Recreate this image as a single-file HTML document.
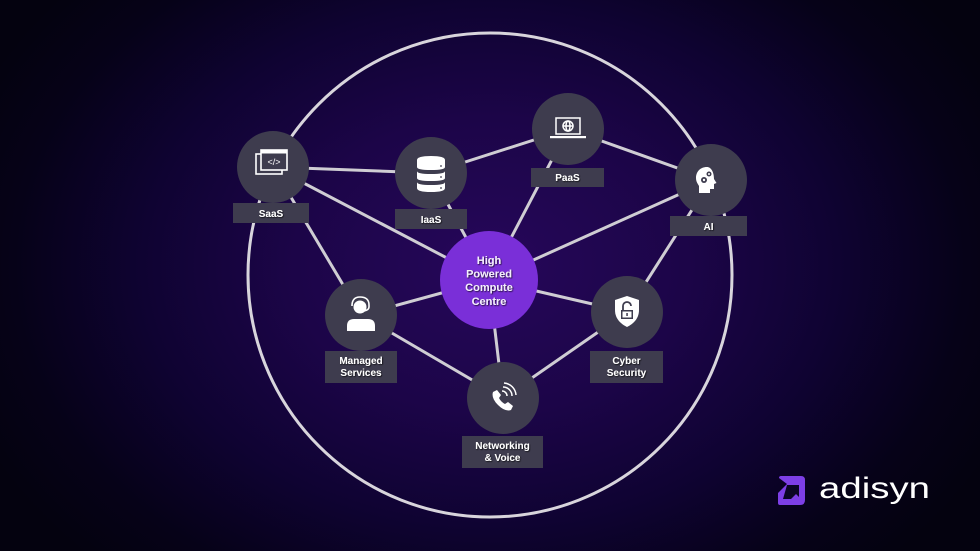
<!DOCTYPE html>
<html><head><meta charset="utf-8"><style>
html,body{margin:0;padding:0;width:980px;height:551px;overflow:hidden;background:#040210}
.bg{position:absolute;left:0;top:0;width:980px;height:551px;background:radial-gradient(ellipse 560px 420px at 490px 265px,#26075a 0%,#1c0548 35%,#0f0332 62%,#060218 85%,#04020f 100%)}
svg{position:absolute;left:0;top:0}
text{font-family:"Liberation Sans",Arial,sans-serif}
</style></head><body>
<div class="bg"></div>
<svg width="980" height="551" viewBox="0 0 980 551">
<defs>
<filter id="sh" x="-20%" y="-20%" width="140%" height="140%"><feDropShadow dx="0.8" dy="0.8" stdDeviation="0.5" flood-color="#000" flood-opacity="0.8"/></filter>
</defs>
<!-- big circle -->
<circle cx="490" cy="275" r="242" fill="none" stroke="#d8d5dc" stroke-width="3"/>
<!-- connectors -->
<g stroke="#cfcdd3" stroke-width="3" stroke-linecap="round">
<line x1="273" y1="167" x2="431" y2="173"/>
<line x1="273" y1="167" x2="489" y2="280"/>
<line x1="273" y1="167" x2="361" y2="315"/>
<line x1="431" y1="173" x2="568" y2="129"/>
<line x1="431" y1="173" x2="489" y2="280"/>
<line x1="568" y1="129" x2="711" y2="180"/>
<line x1="568" y1="129" x2="489" y2="280"/>
<line x1="711" y1="180" x2="489" y2="280"/>
<line x1="711" y1="180" x2="627" y2="312"/>
<line x1="489" y1="280" x2="627" y2="312"/>
<line x1="489" y1="280" x2="361" y2="315"/>
<line x1="489" y1="280" x2="503" y2="398"/>
<line x1="361" y1="315" x2="503" y2="398"/>
<line x1="627" y1="312" x2="503" y2="398"/>
</g>
<!-- node circles -->
<g fill="#3e3c4e">
<circle cx="273" cy="167" r="36"/>
<circle cx="431" cy="173" r="36"/>
<circle cx="568" cy="129" r="36"/>
<circle cx="711" cy="180" r="36"/>
<circle cx="361" cy="315" r="36"/>
<circle cx="627" cy="312" r="36"/>
<circle cx="503" cy="398" r="36"/>
</g>
<!-- label boxes -->
<g fill="#3e3c4e">
<rect x="233" y="203" width="76" height="20"/>
<rect x="395" y="209" width="72" height="20"/>
<rect x="531" y="168" width="73" height="19"/>
<rect x="670" y="216" width="77" height="20"/>
<rect x="325" y="351" width="72" height="32"/>
<rect x="590" y="351" width="73" height="32"/>
<rect x="462" y="436" width="81" height="32"/>
</g>
<!-- center -->
<circle cx="489" cy="280" r="49" fill="#7a2fd8"/>
<g fill="#f4eefc" font-size="11" font-weight="bold" text-anchor="middle" filter="url(#sh)">
<text x="489" y="264">High</text>
<text x="489" y="277.5">Powered</text>
<text x="489" y="291">Compute</text>
<text x="489" y="305">Centre</text>
</g>
<!-- labels -->
<g fill="#ffffff" font-size="10" font-weight="bold" text-anchor="middle" filter="url(#sh)">
<text x="271" y="217">SaaS</text>
<text x="431" y="223">IaaS</text>
<text x="567.5" y="181">PaaS</text>
<text x="708.5" y="230">AI</text>
<text x="361" y="364">Managed</text>
<text x="361" y="376">Services</text>
<text x="626.5" y="364">Cyber</text>
<text x="626.5" y="376">Security</text>
<text x="502.5" y="449">Networking</text>
<text x="502.5" y="461">&amp; Voice</text>
</g>
<!-- SaaS icon -->
<g fill="none" stroke="#fff" stroke-width="1.6">
<rect x="256" y="154" width="26" height="20"/>
<rect x="261" y="150" width="26" height="20" fill="#3e3c4e"/>
</g>
<rect x="261" y="150" width="26" height="3.5" fill="#fff"/>
<text x="274" y="165" font-size="9" fill="#fff" text-anchor="middle" font-family="Liberation Mono">&lt;/&gt;</text>
<!-- IaaS icon -->
<g fill="#fff">
<path d="M417 160 q0-4 14-4 q14 0 14 4 v7 q0 3-14 3 q-14 0-14-3z"/>
<path d="M417 171 q0 3 14 3 q14 0 14-3 v7 q0 3-14 3 q-14 0-14-3z"/>
<path d="M417 182 q0 3 14 3 q14 0 14-3 v6 q0 4-14 4 q-14 0-14-4z"/>
</g>
<g fill="#3e3c4e"><circle cx="441" cy="166" r="0.9"/><circle cx="441" cy="177" r="0.9"/><circle cx="441" cy="188" r="0.9"/></g>
<!-- PaaS icon -->
<g fill="none" stroke="#fff" stroke-width="1.5">
<rect x="556" y="118" width="24" height="16"/>
<circle cx="568" cy="126" r="5"/>
<ellipse cx="568" cy="126" rx="2" ry="5"/>
<line x1="563" y1="126" x2="573" y2="126"/>
</g>
<rect x="550" y="136" width="36" height="2.2" fill="#fff"/>
<!-- AI icon -->
<path d="M707 167 c-7 0-11 5-11 11 c0 4 2 6 3 8 v7 h11 v-4 h4 v-5 l2.5-1 l-2.5-4 c0-7-3-12-7-12z" fill="#fff"/>
<g fill="#3e3c4e"><circle cx="704" cy="180" r="3"/><circle cx="709" cy="174" r="2.5"/></g>
<g fill="#fff"><circle cx="704" cy="180" r="1.2"/><circle cx="709" cy="174" r="1"/></g>
<!-- Managed icon -->
<g fill="#fff">
<circle cx="360" cy="307" r="6.5"/>
<path d="M347 331 v-5 q0-7 7-7 h14 q7 0 7 7 v5z"/>
</g>
<path d="M352 306 q0-9 8-9 q9 0 9 8 v2 q0 3-5 4" fill="none" stroke="#fff" stroke-width="1.6"/>
<!-- Cyber icon -->
<path d="M627 296 l12 4 v10 c0 9-6 14-12 17 c-6-3-12-8-12-17 v-10z" fill="#fff"/>
<rect x="621" y="310" width="12" height="9" fill="#3e3c4e"/>
<path d="M623 310 v-4 a4 4 0 0 1 8 0" fill="none" stroke="#3e3c4e" stroke-width="1.8"/>
<rect x="622.5" y="311.5" width="9" height="6" fill="#fff"/>
<rect x="626.3" y="313" width="1.5" height="3" fill="#3e3c4e"/>
<!-- Networking icon -->
<path d="M493 392 q-2 6 5 13 q7 7 13 5 l2-4 l-5-4 l-3 2 q-4-2-6-6 l2-3 l-4-5z" fill="#fff"/>
<g fill="none" stroke="#fff" stroke-width="1.5">
<path d="M502 391 a5 5 0 0 1 5 5"/>
<path d="M503 387 a9 9 0 0 1 9 9"/>
<path d="M504 383 a13 13 0 0 1 12 12"/>
</g>
<!-- logo -->
<path d="M779 478 q0-2 2-2 h20 q4 0 4 4 v20 q0 5-5 5 h-20 q-2 0-2-2 v-10 l9-9 z" fill="#7d3fe6"/>
<path d="M787 485 h12 v12 l-3-3 l-5 5 h-8 z" fill="#05031a" opacity="0.95"/>
<text x="819" y="498" font-size="30" fill="#ffffff" textLength="111" lengthAdjust="spacingAndGlyphs">adisyn</text>
</svg>
</body></html>
